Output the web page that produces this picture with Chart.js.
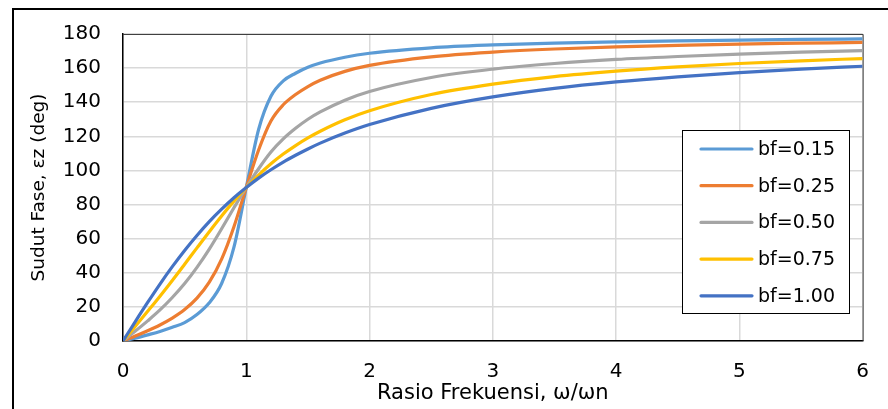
<!DOCTYPE html>
<html>
<head>
<meta charset="utf-8">
<script src="https://cdn.jsdelivr.net/npm/chart.js@4.4.1/dist/chart.umd.min.js"></script>
<style>
  html, body { margin: 0; padding: 0; background: #fff; overflow: hidden; }
  canvas { display: block; }
</style>
</head>
<body>
<canvas id="phase-chart" width="888" height="409"></canvas>
<script>
// Rasio frekuensi (sumbu x) dan sudut fase tiap redaman (sumbu y)
const ratio = [0, 0.1, 0.2, 0.3, 0.4, 0.5, 0.6, 0.7, 0.8, 0.9, 1.0, 1.1, 1.2, 1.3, 1.4, 1.5, 1.6, 1.8, 2.0, 2.5, 3.0, 3.5, 4.0, 4.5, 5.0, 5.5, 6.0];

const bf015 = [0, 1.7, 3.6, 5.6, 8.0, 10.8, 15.5, 22.4, 33.7, 55, 90, 124, 143.5, 152.5, 157, 160.5, 163, 166.4, 168.7, 171.9, 173.6, 174.7, 175.4, 176, 176.4, 176.8, 177.1];
const bf025 = [0, 2.9, 6.0, 9.4, 13.4, 18.4, 25.1, 34.5, 48, 67, 90, 112, 129, 138.5, 144.5, 149.2, 152.9, 158.1, 161.6, 166.6, 169.4, 171.2, 172.4, 173.3, 174.1, 174.6, 175.1];
const bf050 = [0, 5.8, 11.8, 18.2, 25.5, 33.7, 43.2, 53.9, 65.8, 78.1, 90, 101, 110.8, 118.5, 124.7, 130, 134.3, 141.2, 146.3, 154.5, 159.4, 162.7, 165.1, 166.8, 168.2, 169.4, 170.3];
const bf075 = [0, 8.6, 17.4, 26.3, 35.5, 45, 54.6, 64.1, 73.3, 82, 90, 97.3, 103.9, 109.6, 114.6, 119.1, 123, 129.7, 135, 144.5, 150.6, 155, 158.2, 160.7, 162.7, 164.3, 165.6];
const bf100 = [0, 11.4, 22.6, 33.4, 43.6, 53.1, 61.9, 70, 77.3, 84, 90, 95.5, 100.4, 104.9, 108.9, 112.6, 116, 121.9, 126.9, 136.4, 143.1, 148.1, 151.9, 154.9, 157.4, 159.4, 161.1];

const seriesLabels = ['bf=0.15', 'bf=0.25', 'bf=0.50', 'bf=0.75', 'bf=1.00'];
const xTicks = [0, 1, 2, 3, 4, 5, 6];
const yTicks = [0, 20, 40, 60, 80, 100, 120, 140, 160, 180];

const colors = ['#5B9BD5', '#ED7D31', '#A5A5A5', '#FFC000', '#4472C4'];
const FONT = '"DejaVu Sans", sans-serif';

const allSeries = [bf015, bf025, bf050, bf075, bf100];
const datasets = allSeries.map((vals, i) => ({
    label: seriesLabels[i],
    data: ratio.map((x, j) => ({ x: x, y: vals[j] })),
    borderColor: colors[i],
    backgroundColor: colors[i],
    borderWidth: 3.2,
    pointRadius: 0,
    fill: false,
    cubicInterpolationMode: 'monotone',
    order: allSeries.length - i   // seri terakhir digambar paling atas
}));

// bingkai luar + garis tepi area plot
const framePlugin = {
    id: 'frame',
    beforeDraw(chart) {
        const ctx = chart.ctx;
        ctx.save();
        ctx.fillStyle = '#fff';
        ctx.fillRect(0, 0, chart.width, chart.height);
        ctx.strokeStyle = '#000';
        ctx.lineWidth = 2;
        ctx.strokeRect(13, 9, 1000, 1000);
        ctx.restore();
    },
    beforeDatasetsDraw(chart) {
        const { ctx, chartArea: a } = chart;
        ctx.save();
        ctx.strokeStyle = '#404040';
        ctx.lineWidth = 1;
        ctx.beginPath();
        ctx.moveTo(a.left, a.top + 0.5);
        ctx.lineTo(a.right + 0.5, a.top + 0.5);
        ctx.lineTo(a.right + 0.5, a.bottom);
        ctx.stroke();
        ctx.restore();
    }
};

// legenda di dalam area plot
const legendBoxPlugin = {
    id: 'legendBox',
    afterDraw(chart) {
        const ctx = chart.ctx;
        const box = { x: 682.5, y: 130.5, w: 167, h: 183 };
        ctx.save();
        ctx.fillStyle = '#fff';
        ctx.fillRect(box.x, box.y, box.w, box.h);
        ctx.strokeStyle = '#000';
        ctx.lineWidth = 1;
        ctx.strokeRect(box.x, box.y, box.w, box.h);
        ctx.font = '19px ' + FONT;
        ctx.textBaseline = 'middle';
        ctx.textAlign = 'left';
        chart.data.datasets.forEach((ds, i) => {
            const cy = 149 + i * 36.7;
            ctx.strokeStyle = ds.borderColor;
            ctx.lineWidth = 3.2;
            ctx.lineCap = 'round';
            ctx.beginPath();
            ctx.moveTo(701, cy);
            ctx.lineTo(752, cy);
            ctx.stroke();
            ctx.fillStyle = '#000';
            ctx.fillText(ds.label, 758, cy + 1);
        });
        ctx.restore();
    }
};

new Chart(document.getElementById('phase-chart'), {
    type: 'line',
    data: { datasets: datasets },
    options: {
        responsive: false,
        animation: false,
        devicePixelRatio: 1,
        layout: { padding: { left: 0, top: 34, right: 20, bottom: 0 } },
        plugins: {
            legend: { display: false },
            tooltip: { enabled: false }
        },
        scales: {
            x: {
                type: 'linear',
                min: 0,
                max: 6,
                afterBuildTicks: (scale) => { scale.ticks = xTicks.map(v => ({ value: v })); },
                afterFit: (scale) => { scale.height = 68; },
                grid: { color: '#d9d9d9', lineWidth: 1.5, drawTicks: false },
                border: { color: '#000', width: 1.5 },
                ticks: { color: '#000', padding: 19, font: { family: FONT, size: 20 } },
                title: {
                    display: true,
                    text: 'Rasio Frekuensi, ω/ωn',
                    color: '#000',
                    font: { family: FONT, size: 21 },
                    padding: { top: 0, bottom: 3 }
                }
            },
            y: {
                min: 0,
                max: 180,
                afterBuildTicks: (scale) => { scale.ticks = yTicks.map(v => ({ value: v })); },
                afterFit: (scale) => { scale.width = 123; },
                grid: { color: '#d9d9d9', lineWidth: 1.5, drawTicks: false },
                border: { color: '#000', width: 1.5 },
                ticks: { color: '#000', padding: 22, font: { family: FONT, size: 20 } },
                title: {
                    display: true,
                    text: 'Sudut Fase, εz (deg)',
                    color: '#000',
                    font: { family: FONT, size: 18.5 },
                    padding: { top: 28, bottom: 0 }
                }
            }
        }
    },
    plugins: [framePlugin, legendBoxPlugin]
});
</script>
</body>
</html>
